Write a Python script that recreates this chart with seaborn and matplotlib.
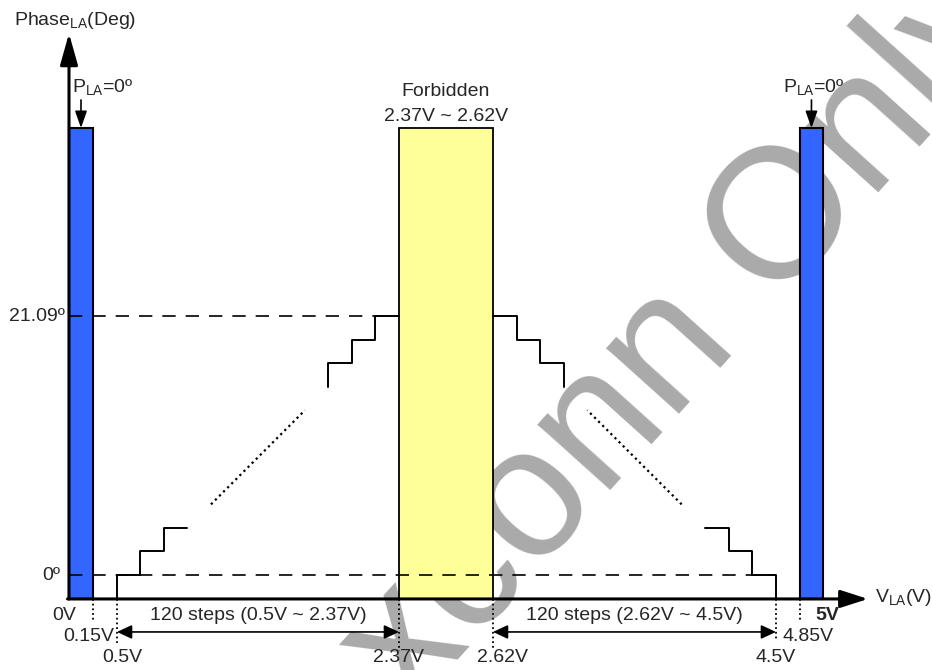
import numpy as np
import seaborn as sns
import matplotlib.pyplot as plt
from matplotlib.patches import ArrowStyle

# 資料: 電壓刻度 / 相位
V_TICKS = [0.0, 0.15, 0.5, 2.37, 2.62, 4.5, 4.85, 5.0]
V_TICK_LABELS = ['0V', '0.15V', '0.5V', '2.37V', '2.62V', '4.5V', '4.85V', '5V']
PHASE_TICKS = [0.0, 21.09]
PHASE_TICK_LABELS = ['0º', '21.09º']
PLA_ZERO_BANDS = [(0.0, 0.15), (4.85, 5.0)]
FORBIDDEN_BAND = (2.37, 2.62)
RAMP_UP = (0.5, 2.37)
RAMP_DOWN = (2.62, 4.5)
N_STEPS = 120
PHASE_MAX = 21.09

# 示意圖: 每個畫出的台階代表 10 個實際台階
DRAWN_STEPS = N_STEPS // 10
h = PHASE_MAX / (DRAWN_STEPS - 1)

# 版面 (非線性示意 x 軸)
SCALE_V = [-1.0, 0.0, 0.15, 0.5, 2.37, 2.62, 4.5, 4.85, 5.0, 6.0]
SCALE_P = [-81, 69, 93, 117, 399, 493, 776, 800, 823, 973]
BASE = -1.95
BAR_TOP = 36.4
Y_TIP = 44.1
X_TIP = 5.3
PX = PHASE_MAX / 259.0          # 度 / 像素
LBL_ROW = [0, 1, 2, 2, 2, 2, 1, 0]
LBL_DX = [-5, -4, 5, 0, 10, 0, 8, 4]
DROP_PX = [0, 21, 44, 52, 50, 42, 21, 0]

sns.set_theme(style='white')
plt.rcParams['font.family'] = ['Liberation Sans', 'DejaVu Sans']
plt.rcParams['mathtext.fontset'] = 'custom'
plt.rcParams['mathtext.rm'] = 'Liberation Sans'
FS = 14

fig = plt.figure(figsize=(9.32, 6.70), dpi=100)
ax = fig.add_axes([0, 0, 1, 1])


def stair_up(x0, w, ks, start_y):
    xs, ys = [x0 + ks[0] * w], [start_y]
    for k in ks:
        xs += [x0 + k * w, x0 + (k + 1) * w]
        ys += [k * h, k * h]
    return xs, ys


w_up = (RAMP_UP[1] - RAMP_UP[0]) / DRAWN_STEPS
w_dn = (RAMP_DOWN[1] - RAMP_DOWN[0]) / DRAWN_STEPS


def mirror(xs):
    return [RAMP_DOWN[0] + (RAMP_UP[1] - x) * w_dn / w_up for x in xs]


pieces = [stair_up(RAMP_UP[0], w_up, [0, 1, 2], BASE),
          stair_up(RAMP_UP[0], w_up, [9, 10, 11], 8 * h)]
dots = ([RAMP_UP[0] + 4 * w_up, RAMP_UP[0] + 8 * w_up], [3 * h, 7 * h])

# 浮水印
ax.text(0.772, 0.449, 'xconn Only', transform=ax.transAxes, rotation=48,
        rotation_mode='anchor', ha='center', va='baseline', fontsize=133,
        color='#aaaaaa', zorder=0.5)

# P_LA=0 與禁止區
for lo, hi in PLA_ZERO_BANDS:
    ax.bar(lo, BAR_TOP - BASE, width=hi - lo, bottom=BASE, align='edge',
           color='#3366ff', edgecolor='black', linewidth=1.5, zorder=2)
ax.bar(FORBIDDEN_BAND[0], BAR_TOP - BASE, width=FORBIDDEN_BAND[1] - FORBIDDEN_BAND[0],
       bottom=BASE, align='edge', color='#ffff99', edgecolor='black', linewidth=1.3, zorder=2)

# 虛線參考
ax.plot([0, RAMP_DOWN[1]], [0, 0], color='black', lw=1.2, ls=(0, (8, 6)), zorder=3)
ax.plot([0, RAMP_UP[1]], [PHASE_MAX, PHASE_MAX], color='black', lw=1.2, ls=(0, (8, 6)), zorder=3)

# 台階
for xs, ys in pieces:
    sns.lineplot(x=xs, y=ys, sort=False, estimator=None, color='black', lw=1.4, ax=ax, zorder=4)
    sns.lineplot(x=mirror(xs), y=ys, sort=False, estimator=None, color='black', lw=1.4, ax=ax, zorder=4)
for xs in (dots[0], mirror(dots[0])):
    ax.plot(xs, dots[1], color='black', lw=1.6, ls=(0, (1, 1.6)), zorder=4)

# 刻度標籤與垂直點線
for v, lab, row, dx, drop in zip(V_TICKS, V_TICK_LABELS, LBL_ROW, LBL_DX, DROP_PX):
    if drop:
        ax.plot([v, v], [BASE, BASE - drop * PX], color='black', lw=1.3,
                ls=(0, (1, 1.6)), zorder=3)
    ax.annotate(lab, xy=(v, BASE), xytext=(dx, -17 - 21 * row), textcoords='offset pixels',
                ha='center', va='center', fontsize=FS,
                fontweight='bold' if lab == '5V' else 'normal')

for p, lab, dx in zip(PHASE_TICKS, PHASE_TICK_LABELS, [-9, -4]):
    ax.annotate(lab, xy=(0, p), xytext=(dx, 0), textcoords='offset pixels',
                ha='right', va='center', fontsize=FS)

# 120 steps 雙箭頭
y_arr = BASE - 33 * PX
for lo, hi in (RAMP_UP, RAMP_DOWN):
    ax.annotate('', xy=(hi, y_arr), xytext=(lo, y_arr),
                arrowprops=dict(arrowstyle=ArrowStyle('<|-|>', head_length=0.75, head_width=0.35),
                                color='black', lw=1.2, shrinkA=0, shrinkB=0))
    ax.annotate(f'{N_STEPS} steps ({lo}V ~ {hi}V)', xy=((lo + hi) / 2, BASE), xytext=(0, -17),
                textcoords='offset pixels', ha='center', va='center', fontsize=FS)

# 禁止區文字
fmid = sum(FORBIDDEN_BAND) / 2
ax.annotate('Forbidden', xy=(fmid, BAR_TOP), xytext=(0, 36), textcoords='offset pixels',
            ha='center', va='center', fontsize=FS)
ax.annotate(f'{FORBIDDEN_BAND[0]}V ~ {FORBIDDEN_BAND[1]}V', xy=(fmid, BAR_TOP), xytext=(0, 11),
            textcoords='offset pixels', ha='center', va='center', fontsize=FS)

# P_LA=0º 標示
for (lo, hi), tdx in zip(PLA_ZERO_BANDS, [22, 2]):
    mid = (lo + hi) / 2
    ax.annotate('', xy=(mid, BAR_TOP), xytext=(0, 28), textcoords='offset pixels',
                arrowprops=dict(arrowstyle=ArrowStyle('-|>', head_length=0.85, head_width=0.3),
                                color='black', lw=1.2, shrinkA=0, shrinkB=0))
    ax.annotate(r'P$_{\mathregular{LA}}$=0º', xy=(mid, BAR_TOP), xytext=(tdx, 40),
                textcoords='offset pixels', ha='center', va='center', fontsize=FS)

# 座標軸箭頭
ax.annotate('', xy=(0, Y_TIP), xytext=(0, BASE),
            arrowprops=dict(arrowstyle=ArrowStyle('-|>', head_length=1.6, head_width=0.45),
                            color='black', lw=2.2, shrinkA=0, shrinkB=0), zorder=5)
ax.annotate('', xy=(X_TIP, BASE), xytext=(-0.01, BASE),
            arrowprops=dict(arrowstyle=ArrowStyle('-|>', head_length=1.4, head_width=0.45),
                            color='black', lw=2.2, shrinkA=0, shrinkB=0), zorder=5)
ax.annotate(r'Phase$_{\mathregular{LA}}$(Deg)', xy=(0, Y_TIP), xytext=(-55, 13),
            textcoords='offset pixels', ha='left', va='center', fontsize=FS)
ax.annotate(r'V$_{\mathregular{LA}}$(V)', xy=(X_TIP, BASE), xytext=(7, 1),
            textcoords='offset pixels', ha='left', va='center', fontsize=FS)

ax.set_xscale('function', functions=(lambda v: np.interp(v, SCALE_V, SCALE_P),
                                     lambda p: np.interp(p, SCALE_P, SCALE_V)))
ax.set_xlim(-0.46, 5.727)
ax.set_ylim(-95 * PX, 575 * PX)
ax.axis('off')

fig.savefig('out.png', dpi=100)
